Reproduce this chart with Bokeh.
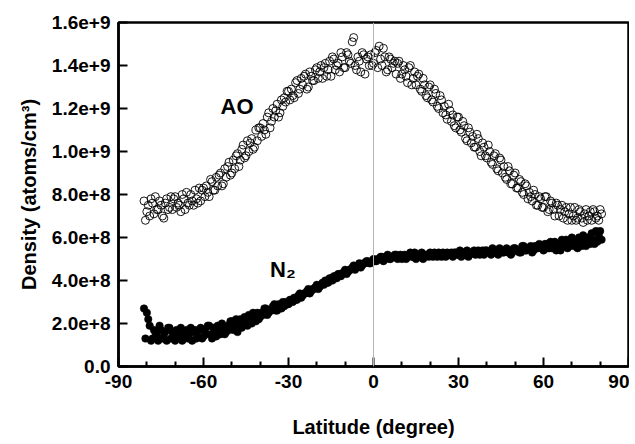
from bokeh.plotting import figure
from bokeh.models import ColumnDataSource, FixedTicker, Span, Label
from bokeh.embed import file_html
from bokeh.resources import INLINE

# Latitude sampling (degrees) of the two passes
lat_1 = list(range(-81, 81))
lat_2 = [v + 0.5 for v in lat_1]

# Atomic oxygen density, units of 1e8 atoms/cm^3
ao_1 = [7.7, 7.2, 7.0, 7.6, 7.9, 7.3, 7.5, 6.9, 7.8, 7.4,
        7.3, 7.9, 7.6, 7.2, 7.8, 8.1, 7.5, 7.7, 8.2, 7.6,
        7.7, 8.3, 8.4, 7.9, 8.6, 8.2, 8.4, 9.0, 8.5, 8.8,
        9.5, 9.0, 9.2, 9.9, 9.6, 10.3, 9.8, 10.0, 10.6, 10.2,
        10.5, 11.1, 11.3, 10.8, 11.8, 11.4, 11.6, 12.2, 11.8, 12.1,
        12.3, 12.8, 12.9, 12.5, 13.3, 12.9, 13.1, 13.6, 13.0, 13.5,
        13.3, 13.9, 13.7, 13.4, 14.1, 13.8, 13.5, 14.3, 14.0, 13.7,
        14.4, 13.9, 14.5, 14.1, 15.3, 13.8, 14.2, 14.6, 13.6, 14.4,
        14.5, 14.1, 14.7, 14.9, 14.0, 14.4, 13.8, 14.3, 14.1, 13.6,
        14.2, 13.6, 13.8, 13.2, 14.0, 13.4, 13.1, 13.6, 12.8, 13.1,
        12.5, 13.1, 12.3, 12.7, 12.0, 12.4, 12.1, 11.5, 11.9, 11.7,
        11.1, 11.6, 10.9, 11.2, 10.5, 10.9, 10.7, 10.2, 10.6, 9.8,
        10.2, 9.7, 10.0, 9.4, 9.9, 9.1, 9.6, 9.3, 8.7, 9.1,
        8.5, 9.0, 8.3, 8.6, 8.0, 8.4, 8.1, 7.7, 8.0, 7.5,
        7.8, 7.4, 7.9, 7.3, 7.6, 7.0, 7.5, 7.3, 6.9, 7.4,
        7.1, 6.8, 7.4, 6.9, 7.2, 6.7, 7.3, 7.0, 6.8, 7.2,
        7.0, 7.3]
ao_2 = [6.8, 7.5, 7.8, 7.1, 7.3, 7.7, 7.0, 7.6, 7.3, 7.9,
        7.8, 7.4, 7.5, 8.0, 7.3, 7.6, 8.0, 7.5, 7.8, 8.3,
        8.2, 7.9, 8.1, 8.7, 8.2, 8.8, 8.9, 8.4, 9.2, 9.3,
        8.9, 9.6, 9.8, 9.3, 10.1, 9.7, 10.5, 10.4, 10.1, 11.0,
        11.1, 10.7, 11.0, 11.6, 11.1, 12.0, 11.9, 11.6, 12.4, 12.5,
        12.8, 12.4, 12.6, 13.2, 12.7, 13.4, 13.5, 12.9, 13.7, 13.3,
        13.8, 13.4, 14.0, 13.9, 13.5, 14.2, 14.4, 13.8, 14.1, 14.6,
        13.9, 14.6, 14.2, 15.1, 14.0, 14.4, 13.7, 14.5, 14.3, 14.0,
        14.0, 14.6, 13.9, 14.3, 14.8, 13.7, 14.4, 13.9, 14.2, 14.1,
        13.4, 14.0, 13.5, 13.9, 13.1, 13.7, 13.5, 12.9, 13.4, 12.6,
        13.0, 12.4, 12.9, 12.1, 12.6, 11.8, 11.7, 12.2, 11.4, 11.2,
        11.6, 11.0, 11.4, 10.6, 11.1, 10.4, 10.2, 10.8, 10.0, 10.4,
        9.8, 10.3, 9.5, 9.8, 9.2, 9.7, 9.0, 8.8, 9.3, 8.5,
        8.9, 8.3, 8.7, 8.1, 8.5, 7.8, 7.9, 8.2, 7.5, 7.9,
        7.4, 7.9, 7.2, 7.7, 7.3, 7.6, 7.0, 7.5, 7.2, 6.8,
        7.4, 7.0, 6.8, 7.3, 6.9, 7.1, 6.8, 7.2, 7.3, 6.9,
        6.8, 7.1]

# Molecular nitrogen density, units of 1e8 atoms/cm^3
n2_1 = [2.7, 2.5, 1.9, 1.3, 1.6, 1.2, 1.7, 1.4, 1.2, 1.8,
        1.6, 1.2, 1.4, 1.8, 1.3, 1.7, 1.5, 1.2, 1.7, 1.4,
        1.8, 1.4, 1.5, 1.9, 1.3, 1.7, 1.9, 1.5, 1.8, 1.6,
        1.7, 2.1, 1.9, 1.6, 2.2, 1.9, 2.1, 2.4, 2.0, 2.3,
        2.5, 2.3, 2.4, 2.7, 2.5, 2.6, 2.9, 2.6, 2.8, 3.0,
        3.0, 2.9, 3.1, 3.2, 3.1, 3.4, 3.3, 3.4, 3.6, 3.5,
        3.6, 3.8, 3.7, 3.9, 4.0, 3.9, 4.1, 4.2, 4.1, 4.3,
        4.3, 4.5, 4.4, 4.5, 4.7, 4.6, 4.8, 4.7, 4.8, 4.9,
        4.8, 5.0, 4.9, 5.0, 5.1, 5.0, 5.2, 5.0, 5.1, 5.2,
        5.1, 5.0, 5.2, 5.1, 5.3, 5.1, 5.0, 5.2, 5.3, 5.1,
        5.2, 5.3, 5.1, 5.2, 5.3, 5.1, 5.2, 5.3, 5.2, 5.1,
        5.3, 5.2, 5.1, 5.3, 5.4, 5.2, 5.3, 5.2, 5.4, 5.3,
        5.2, 5.4, 5.3, 5.5, 5.3, 5.2, 5.4, 5.3, 5.5, 5.4,
        5.3, 5.5, 5.4, 5.3, 5.6, 5.4, 5.5, 5.3, 5.6, 5.5,
        5.6, 5.4, 5.7, 5.5, 5.5, 5.8, 5.6, 5.4, 5.7, 5.9,
        5.6, 6.0, 5.7, 5.5, 5.9, 6.1, 5.6, 5.8, 6.2, 5.7,
        5.8, 6.3]
n2_2 = [1.3, 2.2, 1.2, 1.7, 1.5, 1.9, 1.3, 1.6, 1.8, 1.3,
        1.3, 1.7, 1.6, 1.2, 1.5, 1.3, 1.8, 1.6, 1.3, 1.7,
        1.3, 1.7, 1.9, 1.5, 1.8, 1.4, 1.6, 2.0, 1.5, 1.9,
        2.1, 1.7, 2.2, 2.0, 1.8, 2.3, 1.9, 2.2, 2.5, 2.1,
        2.2, 2.5, 2.7, 2.4, 2.6, 2.8, 2.6, 2.9, 2.7, 2.8,
        2.9, 3.1, 3.0, 3.1, 3.3, 3.2, 3.4, 3.5, 3.4, 3.6,
        3.7, 3.6, 3.8, 3.8, 3.9, 4.1, 4.0, 4.2, 4.3, 4.2,
        4.4, 4.3, 4.5, 4.6, 4.5, 4.7, 4.6, 4.8, 4.9, 4.8,
        4.9, 4.9, 5.0, 5.1, 4.9, 5.1, 5.0, 5.1, 5.2, 5.0,
        5.2, 5.1, 5.0, 5.2, 5.1, 5.3, 5.2, 5.1, 5.0, 5.2,
        5.1, 5.2, 5.3, 5.1, 5.2, 5.3, 5.1, 5.2, 5.3, 5.3,
        5.2, 5.4, 5.3, 5.2, 5.1, 5.3, 5.4, 5.3, 5.2, 5.4,
        5.4, 5.3, 5.2, 5.3, 5.4, 5.5, 5.3, 5.4, 5.3, 5.2,
        5.5, 5.4, 5.3, 5.6, 5.4, 5.5, 5.6, 5.4, 5.5, 5.7,
        5.5, 5.7, 5.5, 5.8, 5.6, 5.4, 5.7, 5.9, 5.6, 5.5,
        5.9, 5.6, 5.8, 6.0, 5.6, 5.8, 6.0, 5.7, 5.9, 6.3,
        6.1, 5.9]

UNIT = 1e8

x_ticks = [-90, -60, -30, 0, 30, 60, 90]
x_tick_labels = ["-90", "-60", "-30", "0", "30", "60", "90"]
x_minor_ticks = [-80, -70, -50, -40, -20, -10, 10, 20, 40, 50, 70, 80]
y_ticks = [0, 200000000, 400000000, 600000000, 800000000,
           1000000000, 1200000000, 1400000000, 1600000000]
y_tick_labels = ["0.0", "2.0e+8", "4.0e+8", "6.0e+8", "8.0e+8",
                 "1.0e+9", "1.2e+9", "1.4e+9", "1.6e+9"]

FONT = "Liberation Sans"

ao_src = ColumnDataSource(dict(x=lat_1 + lat_2, y=[v * UNIT for v in ao_1 + ao_2]))
n2_src = ColumnDataSource(dict(x=lat_1 + lat_2, y=[v * UNIT for v in n2_1 + n2_2]))

p = figure(width=629, height=440, output_backend="svg", toolbar_location=None,
           x_range=(-90, 90), y_range=(0, 1.6e9),
           min_border_left=118, min_border_right=1, min_border_top=22, min_border_bottom=68)
p.grid.visible = False
p.background_fill_color = "white"
p.border_fill_color = "white"
p.outline_line_color = "black"
p.outline_line_width = 2.5

p.scatter("x", "y", source=ao_src, size=8, marker="circle",
          fill_color=None, line_color="black", line_width=0.9)
p.scatter("x", "y", source=n2_src, size=7.5, marker="circle",
          fill_color="black", line_color="black", line_width=0.5)

p.add_layout(Span(location=0, dimension="height", line_color="#b5b5b5", line_width=1))

p.add_layout(Label(x=-54, y=12.1e8, text="AO", text_font=FONT, text_font_style="bold",
                   text_font_size="22px", text_color="black",
                   text_align="left", text_baseline="middle"))
p.add_layout(Label(x=-36.5, y=4.5e8, text="N₂", text_font=FONT, text_font_style="bold",
                   text_font_size="22px", text_color="black",
                   text_align="left", text_baseline="middle"))

xa = p.xaxis[0]
xa.ticker = FixedTicker(ticks=x_ticks, minor_ticks=x_minor_ticks)
xa.major_label_overrides = dict(zip(x_ticks, x_tick_labels))
xa.axis_label = "Latitude (degree)"

ya = p.yaxis[0]
ya.ticker = FixedTicker(ticks=y_ticks, minor_ticks=[])
ya.major_label_overrides = dict(zip(y_ticks, y_tick_labels))
ya.axis_label = "Density (atoms/cm³)"

for ax in (xa, ya):
    ax.axis_line_width = 2.5
    ax.axis_line_color = "black"
    ax.major_tick_in = 9
    ax.major_tick_out = 0
    ax.major_tick_line_width = 2
    ax.minor_tick_in = 5
    ax.minor_tick_out = 0
    ax.minor_tick_line_width = 2
    ax.major_label_text_font = FONT
    ax.major_label_text_font_style = "bold"
    ax.major_label_text_font_size = "19px"
    ax.major_label_text_color = "black"
    ax.axis_label_text_font = FONT
    ax.axis_label_text_font_style = "bold"
    ax.axis_label_text_font_size = "20px"
    ax.axis_label_text_color = "black"
    ax.major_label_standoff = 8

xa.axis_label_standoff = 25
ya.axis_label_standoff = 9

open("out.html", "w").write(file_html(p, INLINE))
